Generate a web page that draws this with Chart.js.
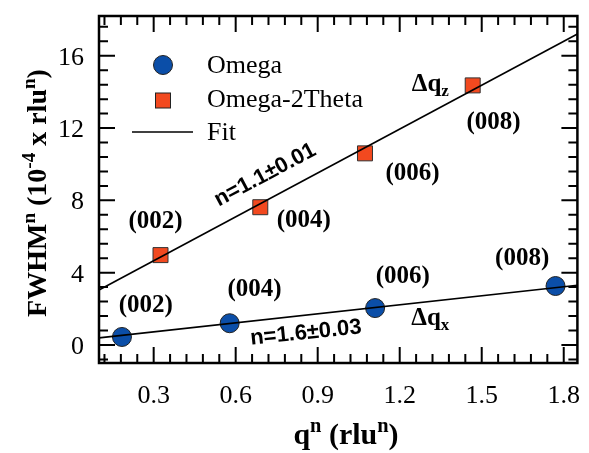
<!DOCTYPE html>
<html>
<head>
<meta charset="utf-8">
<script src="https://cdn.jsdelivr.net/npm/chart.js@4.4.1/dist/chart.umd.min.js"></script>
<style>
  html, body { margin: 0; padding: 0; background: #fff; }
  #wrap { width: 589px; height: 453px; }
</style>
</head>
<body>
<div id="wrap"><canvas id="fwhmChart" width="589" height="453"></canvas></div>
<script>
// valori
var qOmega = [0.184, 0.578, 1.11, 1.77];
var fwhmOmega = [0.44, 1.2, 2.04, 3.26];
var qOmega2T = [0.325, 0.69, 1.073, 1.467];
var fwhmOmega2T = [4.97, 7.62, 10.6, 14.36];
var fitQ = [0.1, 1.85];
var fitOmega = [0.39, 3.3];
var fitOmega2T = [3.04, 17.2];
var xTickValues = [0.3, 0.6, 0.9, 1.2, 1.5, 1.8];
var yTickValues = [0, 4, 8, 12, 16];
var reflections = ['(002)', '(004)', '(006)', '(008)'];

var SERIF = "'Liberation Serif', 'Times New Roman', serif";
var SANS = "'Liberation Sans', Arial, sans-serif";
var BLUE = '#0b4ea8';
var RED = '#f2491f';

function toPoints(xs, ys) {
  return xs.map(function (x, i) { return { x: x, y: ys[i] }; });
}

// etichette sul grafico (coordinate nei dati)
var labelsUpper = [[0.307, 6.8], [0.849, 6.9], [1.247, 9.5], [1.543, 12.3]];
var labelsLower = [[0.271, 2.2], [0.669, 3.04], [1.211, 3.76], [1.648, 4.8]];

// testo con apici / pedici, centrato su x
function richText(ctx, parts, x, y, size, weight) {
  var total = 0;
  parts.forEach(function (p) {
    var s = p.sup || p.sub ? size * 0.68 : size;
    ctx.font = weight + ' ' + s + 'px ' + SERIF;
    p.w = ctx.measureText(p.t).width;
    p.s = s;
    total += p.w;
  });
  var cx = x - total / 2;
  parts.forEach(function (p) {
    ctx.font = weight + ' ' + p.s + 'px ' + SERIF;
    var dy = p.sup ? -size * 0.4 : (p.sub ? size * 0.22 : 0);
    ctx.fillText(p.t, cx, y + dy);
    cx += p.w;
  });
}

var framePlugin = {
  id: 'frame',
  afterDraw: function (chart) {
    var ctx = chart.ctx;
    var a = chart.chartArea;
    var xs = chart.scales.x, ys = chart.scales.y;
    ctx.save();
    ctx.strokeStyle = '#000';

    // tacche interne su tutti i lati
    ctx.lineWidth = 2;
    ctx.beginPath();
    for (var i = 0; i <= 29; i++) {
      var v = +(0.12 + i * 0.06).toFixed(2);
      if (v > xs.max) break;
      var px = xs.getPixelForValue(v);
      var major = Math.abs(v / 0.3 - Math.round(v / 0.3)) < 1e-6;
      var len = major ? 16 : 9;
      ctx.moveTo(px, a.bottom); ctx.lineTo(px, a.bottom - len);
      ctx.moveTo(px, a.top); ctx.lineTo(px, a.top + len);
    }
    for (var j = -1; j <= 22; j++) {
      var vy = +(j * 0.8).toFixed(2);
      if (vy < ys.min || vy > ys.max) continue;
      var py = ys.getPixelForValue(vy);
      var majorY = Math.abs(vy / 4 - Math.round(vy / 4)) < 1e-6;
      var leny = majorY ? 16 : 9;
      ctx.moveTo(a.left, py); ctx.lineTo(a.left + leny, py);
      ctx.moveTo(a.right, py); ctx.lineTo(a.right - leny, py);
    }
    ctx.stroke();

    ctx.lineWidth = 2.5;
    ctx.strokeRect(a.left, a.top, a.right - a.left, a.bottom - a.top);

    // numeri sugli assi
    ctx.fillStyle = '#000';
    ctx.font = '26px ' + SERIF;
    ctx.textBaseline = 'alphabetic';
    ctx.textAlign = 'center';
    xTickValues.forEach(function (t) {
      ctx.fillText(t.toFixed(1), xs.getPixelForValue(t), a.bottom + 40);
    });
    ctx.textAlign = 'right';
    yTickValues.forEach(function (t) {
      ctx.fillText(String(t), a.left - 15, ys.getPixelForValue(t) + 9);
    });

    // etichette delle riflessioni
    ctx.textAlign = 'center';
    ctx.textBaseline = 'middle';
    ctx.font = 'bold 25px ' + SERIF;
    reflections.forEach(function (r, k) {
      ctx.fillText(r, xs.getPixelForValue(labelsUpper[k][0]), ys.getPixelForValue(labelsUpper[k][1]));
      ctx.fillText(r, xs.getPixelForValue(labelsLower[k][0]), ys.getPixelForValue(labelsLower[k][1]));
    });

    // esponenti del fit, ruotati come le rette
    ctx.font = 'bold 22px ' + SANS;
    ctx.save();
    ctx.translate(xs.getPixelForValue(0.708), ys.getPixelForValue(9.4));
    ctx.rotate(-28 * Math.PI / 180);
    ctx.fillText('n=1.1\u00b10.01', 0, 0);
    ctx.restore();
    ctx.save();
    ctx.translate(xs.getPixelForValue(0.857), ys.getPixelForValue(0.66));
    ctx.rotate(-6 * Math.PI / 180);
    ctx.fillText('n=1.6\u00b10.03', 0, 0);
    ctx.restore();

    ctx.textAlign = 'left';
    ctx.textBaseline = 'alphabetic';
    richText(ctx, [{ t: '\u0394q' }, { t: 'z', sub: true }], xs.getPixelForValue(1.312), ys.getPixelForValue(14.5) + 8, 25, 'bold');
    richText(ctx, [{ t: '\u0394q' }, { t: 'x', sub: true }], xs.getPixelForValue(1.312), ys.getPixelForValue(1.55) + 8, 25, 'bold');

    // legenda
    var lx = 163;
    ctx.lineWidth = 1;
    ctx.strokeStyle = '#222';
    ctx.fillStyle = BLUE;
    ctx.beginPath(); ctx.arc(lx, 65, 9.5, 0, Math.PI * 2); ctx.fill(); ctx.stroke();
    ctx.fillStyle = RED;
    ctx.fillRect(lx - 7.5, 93, 15, 15); ctx.strokeRect(lx - 7.5, 93, 15, 15);
    ctx.strokeStyle = '#000';
    ctx.lineWidth = 1.6;
    ctx.beginPath(); ctx.moveTo(132, 132); ctx.lineTo(193, 132); ctx.stroke();
    ctx.fillStyle = '#000';
    ctx.textBaseline = 'middle';
    ctx.font = '26px ' + SERIF;
    ctx.fillText('Omega', 207, 66);
    ctx.fillText('Omega-2Theta', 207, 100);
    ctx.fillText('Fit', 207, 133);

    // titoli degli assi
    ctx.textBaseline = 'alphabetic';
    richText(ctx, [{ t: 'q' }, { t: 'n', sup: true }, { t: ' (rlu' }, { t: 'n', sup: true }, { t: ')' }], 346, 444, 30, 'bold');
    ctx.translate(46, 193);
    ctx.rotate(-Math.PI / 2);
    richText(ctx, [{ t: 'FWHM' }, { t: 'n', sup: true }, { t: ' (10' }, { t: '-4', sup: true }, { t: ' x rlu' }, { t: 'n', sup: true }, { t: ')' }], 0, 0, 28, 'bold');
    ctx.restore();
  }
};

new Chart(document.getElementById('fwhmChart'), {
  type: 'scatter',
  data: {
    datasets: [{
      label: 'Fit Omega-2Theta',
      data: toPoints(fitQ, fitOmega2T),
      showLine: true,
      borderColor: '#000',
      borderWidth: 1.6,
      pointRadius: 0
    }, {
      label: 'Fit Omega',
      data: toPoints(fitQ, fitOmega),
      showLine: true,
      borderColor: '#000',
      borderWidth: 1.6,
      pointRadius: 0
    }, {
      label: 'Omega',
      data: toPoints(qOmega, fwhmOmega),
      pointStyle: 'circle',
      pointRadius: 9.5,
      backgroundColor: BLUE,
      borderColor: '#222',
      borderWidth: 1
    }, {
      label: 'Omega-2Theta',
      data: toPoints(qOmega2T, fwhmOmega2T),
      pointStyle: 'rect',
      pointRadius: 10.6,
      backgroundColor: RED,
      borderColor: '#333',
      borderWidth: 1
    }]
  },
  options: {
    responsive: false,
    animation: false,
    clip: false,
    layout: { padding: { top: 16, right: 3, left: 0, bottom: 0 } },
    plugins: { legend: { display: false }, tooltip: { enabled: false } },
    scales: {
      x: {
        type: 'linear',
        min: 0.1,
        max: 1.85,
        grid: { display: false, drawTicks: false },
        border: { display: false },
        ticks: { display: false },
        afterFit: function (s) { s.height = 90; }
      },
      y: {
        type: 'linear',
        min: -1,
        max: 18.2,
        grid: { display: false, drawTicks: false },
        border: { display: false },
        ticks: { display: false },
        afterFit: function (s) { s.width = 99; }
      }
    }
  },
  plugins: [framePlugin]
});
</script>
</body>
</html>
